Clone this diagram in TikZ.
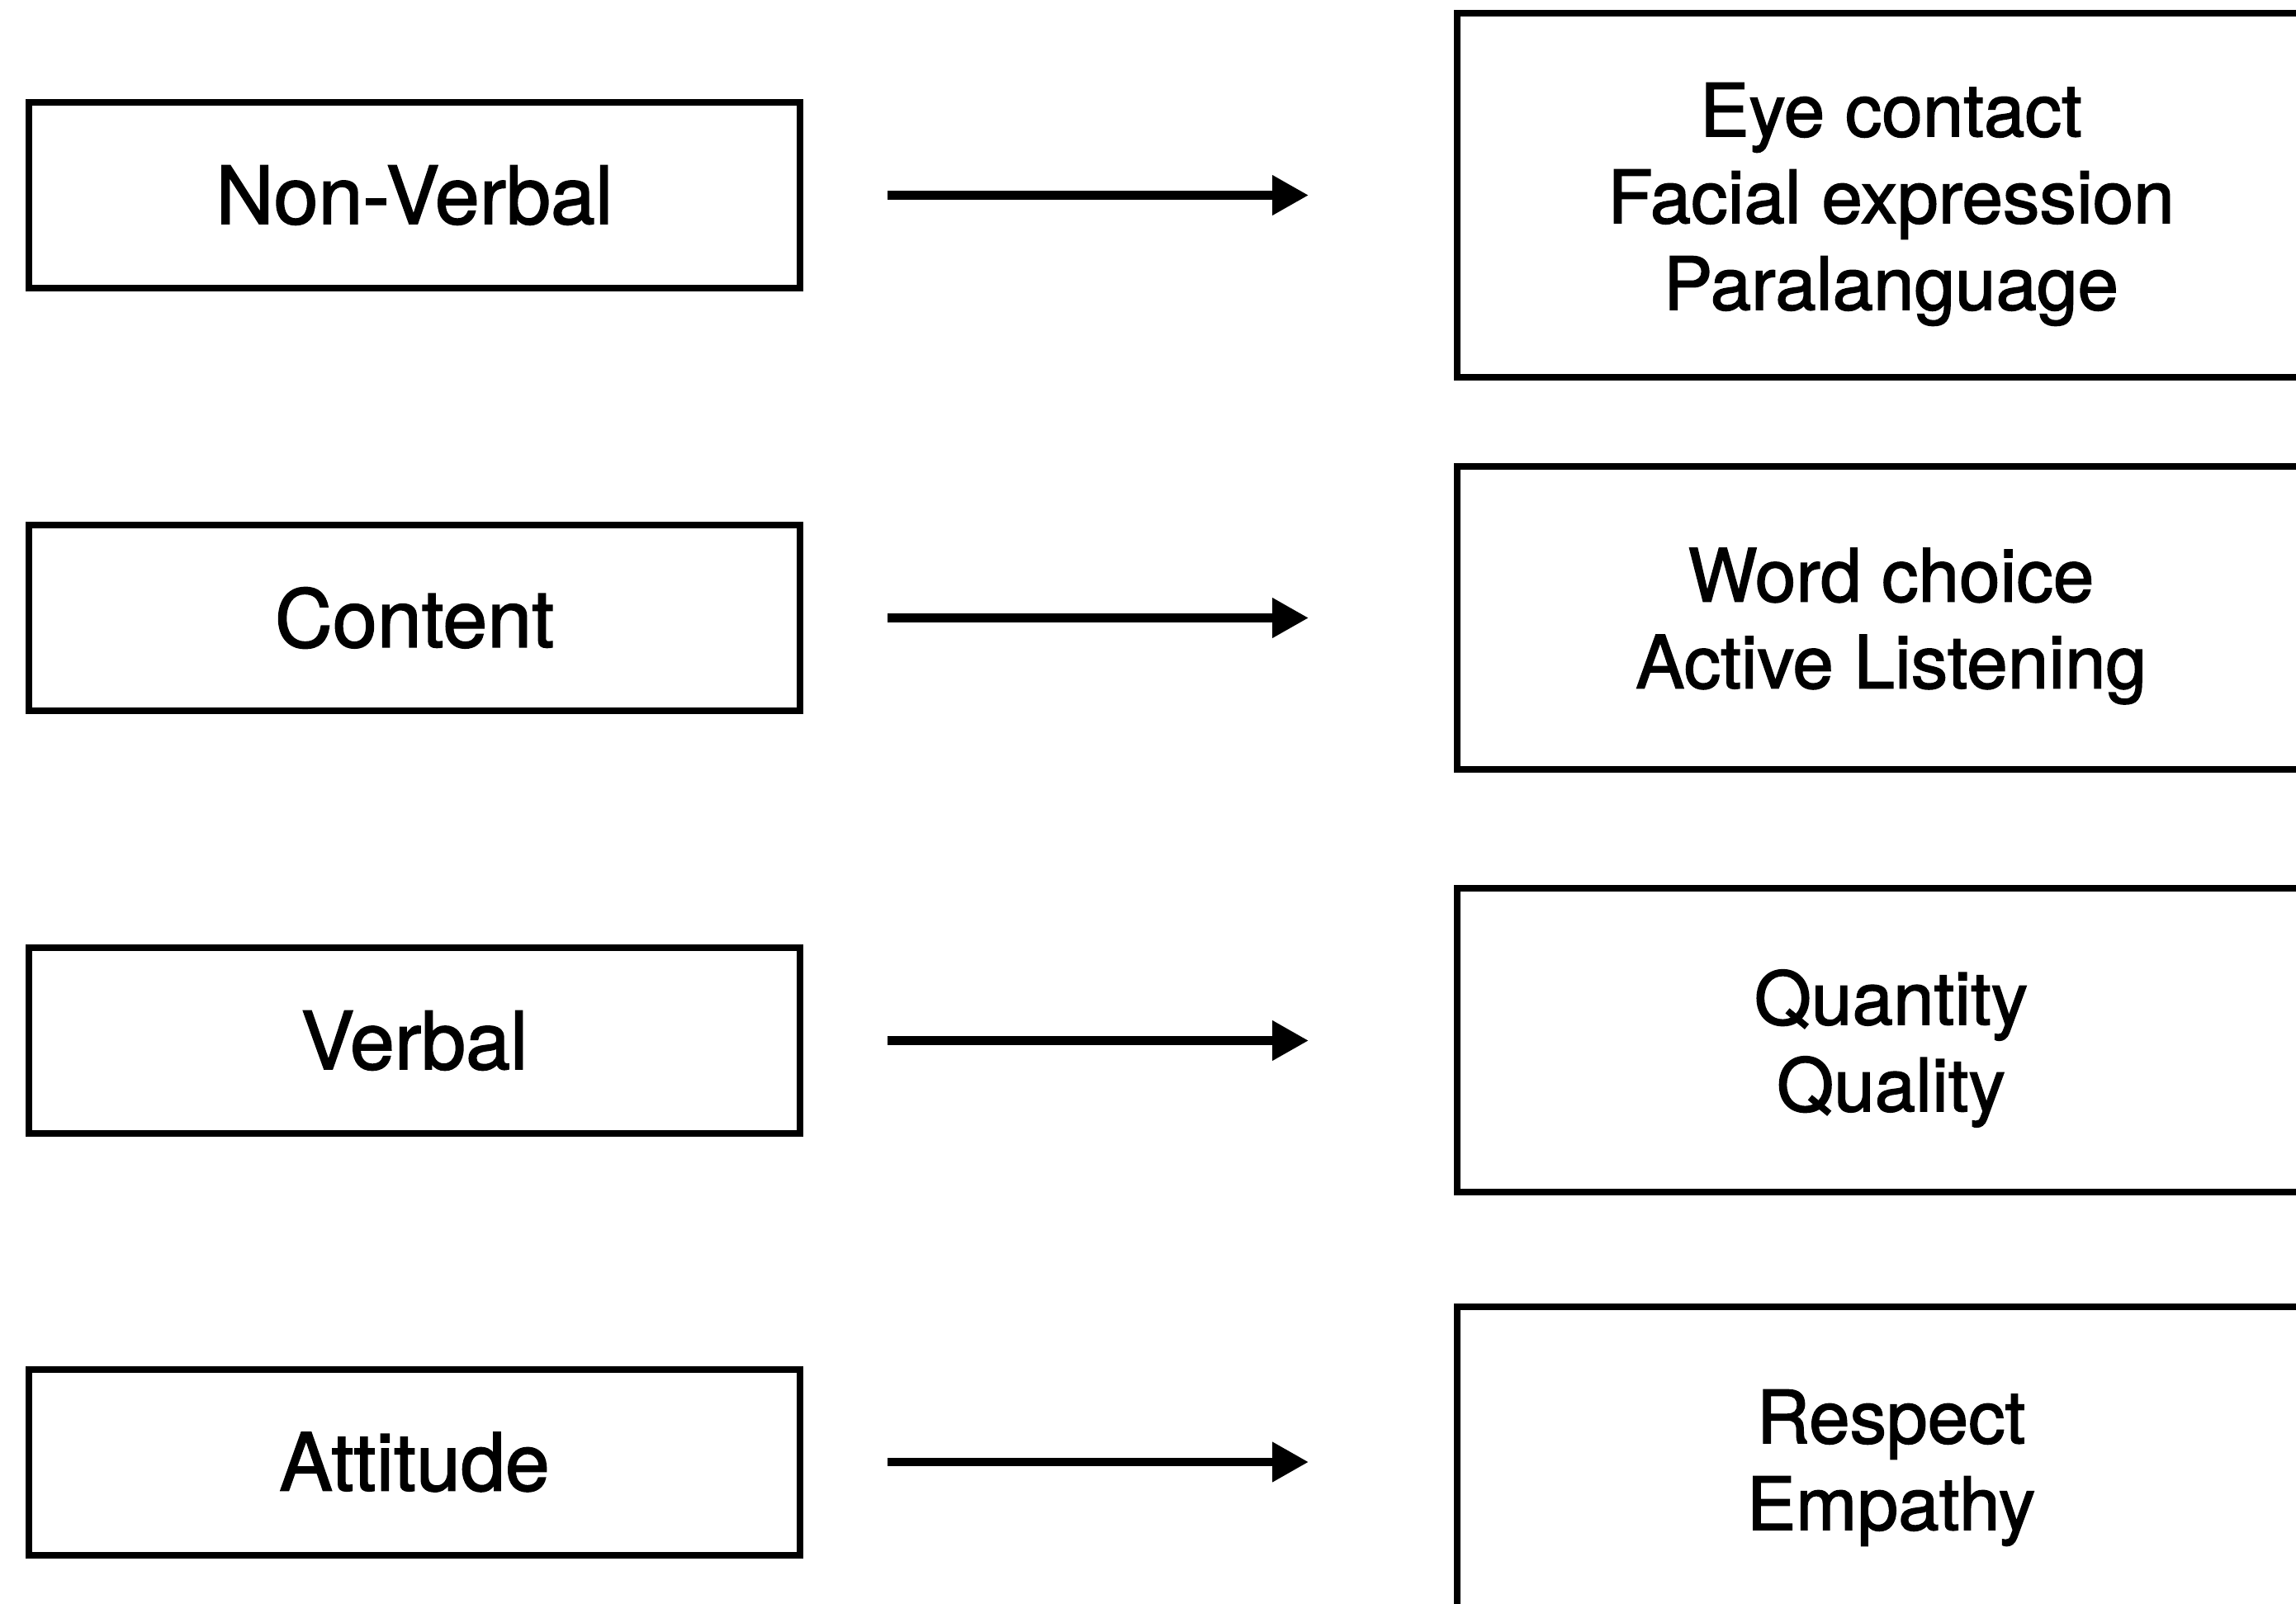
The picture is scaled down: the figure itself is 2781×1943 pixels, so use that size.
\documentclass[tikz,border=0pt]{standalone}
\usepackage{fontspec}
\setmainfont{TeX Gyre Heros}[FakeBold=1.6]
\usetikzlibrary{arrows.meta}
\begin{document}
\begin{tikzpicture}[x=1pt,y=-1pt,
  leftbox/.style={draw=black,line width=8pt,minimum width=934pt,minimum height=225pt,inner sep=0pt,
    font=\fontsize{97}{115}\selectfont},
  rightbox/.style={draw=black,line width=8pt,minimum width=1051pt,inner sep=0pt},
  righttext/.style={inner sep=0pt,align=center,font=\fontsize{89}{105}\selectfont},
  conn/.style={line width=10.5pt,-{Triangle[length=44pt,width=46pt]},shorten <=102pt,shorten >=176pt}]
\clip (0,0) rectangle (2781,1943);
\useasboundingbox (0,0) rectangle (2781,1943);
\fill[white] (0,0) rectangle (2781,1943);
% left boxes
\node[leftbox] (L1) at (502,236.5) {Non-Verbal};
\node[leftbox] (L2) at (502,748.5) {Content};
\node[leftbox] (L3) at (502,1260.5) {Verbal};
\node[leftbox] (L4) at (502,1771) {Attitude};
% right boxes
\node[rightbox,minimum height=440pt] (R1) at (2290.5,236.5) {};
\node[rightbox,minimum height=367pt] (R2) at (2290.5,748.5) {};
\node[rightbox,minimum height=368pt] (R3) at (2290.5,1260) {};
\node[rightbox,minimum height=372pt] (R4) at (2290.5,1769) {};
\node[righttext,yshift=-11pt] (T1) at (R1.center) {Eye contact\\Facial expression\\Paralanguage};
\node[righttext,yshift=-10pt] (T2) at (R2.center) {Word choice\\Active Listening};
\node[righttext,yshift=-10pt] (T3) at (R3.center) {Quantity\\Quality};
\node[righttext,yshift=-9pt] (T4) at (R4.center) {Respect\\Empathy};
% connectors
\draw[conn] (L1.east) -- (L1.east -| R1.west);
\draw[conn] (L2.east) -- (L2.east -| R2.west);
\draw[conn] (L3.east) -- (L3.east -| R3.west);
\draw[conn] (L4.east) -- (L4.east -| R4.west);
\end{tikzpicture}
\end{document}
